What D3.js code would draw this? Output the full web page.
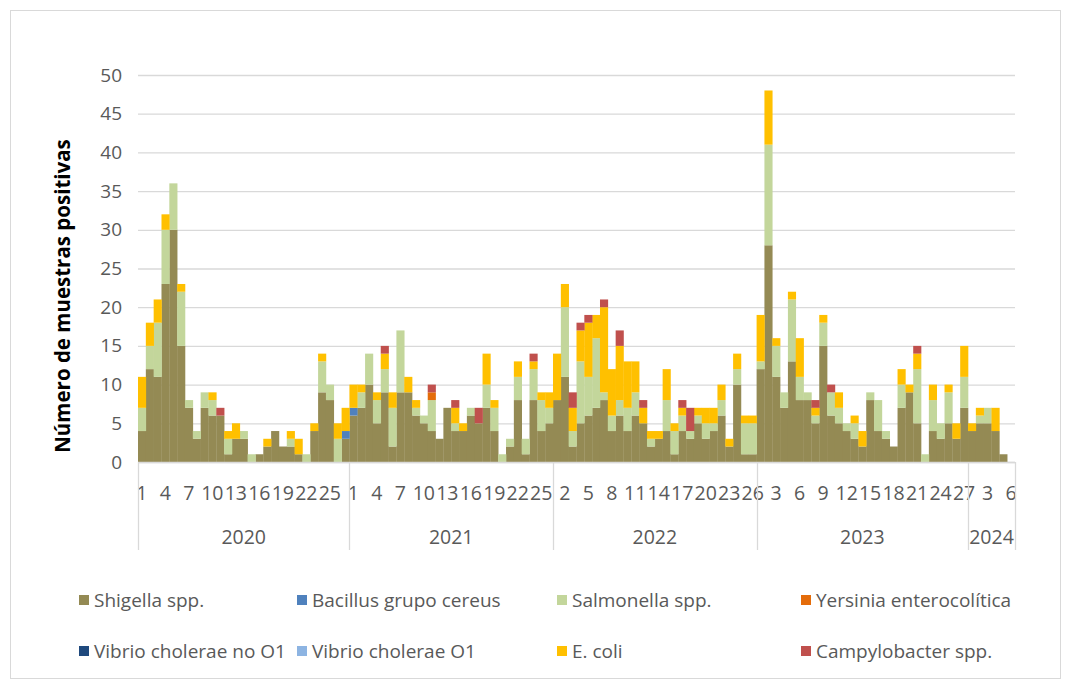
<!DOCTYPE html>
<html>
<head>
<meta charset="utf-8">
<script src="https://cdn.jsdelivr.net/npm/d3@7"></script>
<style>
  body { margin: 0; background: #fff; }
  text { font-family: "Open Sans", "Liberation Sans", sans-serif; }
</style>
</head>
<body>
<script>
// years and number of weeks shown for each
var years = ["2020", "2021", "2022", "2023", "2024"];
var weeksInYear = [27, 26, 26, 27, 6];

// series, one value per week (112 weeks), one row per year
var shigella = [
  4,12,11,23,30,15,7,3,7,6,6,1,3,3,0,1,2,4,2,2,1,0,4,9,8,0,3,
  6,7,10,5,9,2,9,9,6,5,4,3,7,4,4,6,5,7,4,0,2,8,1,8,4,5,
  8,11,2,5,6,7,8,4,6,4,6,5,2,3,4,1,4,3,5,3,4,6,2,10,1,1,
  12,28,11,7,13,8,8,5,15,6,5,4,3,2,8,4,3,2,7,9,5,0,4,3,5,3,7,
  4,5,5,4,1,0
];
var bacillus = [
  0,0,0,0,0,0,0,0,0,0,0,0,0,0,0,0,0,0,0,0,0,0,0,0,0,0,1,
  1,0,0,0,0,0,0,0,0,0,0,0,0,0,0,0,0,0,0,0,0,0,0,0,0,0,
  0,0,0,0,0,0,0,0,0,0,0,0,0,0,0,0,0,0,0,0,0,0,0,0,0,0,
  0,0,0,0,0,0,0,0,0,0,0,0,0,0,0,0,0,0,0,0,0,0,0,0,0,0,0,
  0,0,0,0,0,0
];
var salmonella = [
  3,3,7,7,6,7,1,1,2,2,0,2,0,1,1,0,0,0,0,1,0,1,0,4,2,3,0,
  0,2,4,3,3,5,8,0,1,1,4,0,0,1,0,1,0,3,3,1,1,3,2,4,4,2,
  0,9,2,8,5,9,1,2,2,3,3,0,1,0,4,3,2,1,1,2,1,2,0,2,4,4,
  1,13,4,2,8,3,1,1,3,3,2,1,2,0,1,4,1,0,3,0,7,1,4,2,4,0,4,
  0,1,2,0,0,0
];
var yersinia = [
  0,0,0,0,0,0,0,0,0,0,0,0,0,0,0,0,0,0,0,0,0,0,0,0,0,0,0,
  0,0,0,0,0,0,0,0,0,0,1,0,0,0,0,0,0,0,0,0,0,0,0,0,0,0,
  0,0,0,0,0,0,0,0,0,0,0,0,0,0,0,0,0,0,0,0,0,0,0,0,0,0,
  0,0,0,0,0,0,0,0,0,0,0,0,0,0,0,0,0,0,0,0,0,0,0,0,0,0,0,
  0,0,0,0,0,0
];
var vibrioNoO1 = [
  0,0,0,0,0,0,0,0,0,0,0,0,0,0,0,0,0,0,0,0,0,0,0,0,0,0,0,
  0,0,0,0,0,0,0,0,0,0,0,0,0,0,0,0,0,0,0,0,0,0,0,0,0,0,
  0,0,0,0,0,0,0,0,0,0,0,0,0,0,0,0,0,0,0,0,0,0,0,0,0,0,
  0,0,0,0,0,0,0,0,0,0,0,0,0,0,0,0,0,0,0,0,0,0,0,0,0,0,0,
  0,0,0,0,0,0
];
var vibrioO1 = [
  0,0,0,0,0,0,0,0,0,0,0,0,0,0,0,0,0,0,0,0,0,0,0,0,0,0,0,
  0,0,0,0,0,0,0,0,0,0,0,0,0,0,0,0,0,0,0,0,0,0,0,0,0,0,
  0,0,0,0,0,0,0,0,0,0,0,0,0,0,0,0,0,0,0,0,0,0,0,0,0,0,
  0,0,0,0,0,0,0,0,0,0,0,0,0,0,0,0,0,0,0,0,0,0,0,0,0,0,0,
  0,0,0,0,0,0
];
var ecoli = [
  4,3,3,2,0,1,0,0,0,1,0,1,2,0,0,0,1,0,0,1,2,0,1,1,0,2,3,
  3,1,0,1,2,2,0,2,1,0,0,0,0,2,1,0,0,4,1,0,0,2,0,1,1,2,
  6,3,3,4,7,3,11,6,7,6,4,2,1,1,4,1,1,0,1,2,2,2,1,2,1,1,
  6,7,1,0,1,5,0,1,1,0,2,0,1,2,0,0,0,0,2,1,2,0,2,0,1,2,4,
  1,1,0,3,0,0
];
var campylobacter = [
  0,0,0,0,0,0,0,0,0,0,1,0,0,0,0,0,0,0,0,0,0,0,0,0,0,0,0,
  0,0,0,0,1,0,0,0,0,0,1,0,0,1,0,0,2,0,0,0,0,0,0,1,0,0,
  0,0,2,1,1,0,1,0,2,0,0,1,0,0,0,0,1,3,0,0,0,0,0,0,0,0,
  0,0,0,0,0,0,0,1,0,1,0,0,0,0,0,0,0,0,0,0,1,0,0,0,0,0,0,
  0,0,0,0,0,0
];

var seriesNames = ["Shigella spp.", "Bacillus grupo cereus", "Salmonella spp.", "Yersinia enterocolítica",
  "Vibrio cholerae no O1", "Vibrio cholerae O1", "E. coli", "Campylobacter spp."];
var seriesValues = [shigella, bacillus, salmonella, yersinia, vibrioNoO1, vibrioO1, ecoli, campylobacter];
var colors = ["#948A54", "#4F81BD", "#C3D69B", "#E46C0A", "#1F497D", "#8DB4E2", "#FFC000", "#C0504D"];

var yTicks = [0, 5, 10, 15, 20, 25, 30, 35, 40, 45, 50];

// build week rows
var rows = [];
years.forEach(function(y, yi) {
  d3.range(1, weeksInYear[yi] + 1).forEach(function(w) {
    rows.push({ year: y, week: w });
  });
});
rows.forEach(function(r, i) {
  seriesNames.forEach(function(s, si) { r[s] = seriesValues[si][i]; });
  r.idx = i;
});

var svgWidth = 1067;
var svgHeight = 686;
var margin = { top: 75, left: 138, right: 52, bottom: 224 };
var chartWidth = svgWidth - margin.left - margin.right;
var chartHeight = svgHeight - margin.top - margin.bottom;

var svg = d3.select("body")
  .append("svg")
  .attr("width", svgWidth)
  .attr("height", svgHeight);

// chart frame
svg.append("rect")
  .attr("x", 10.5).attr("y", 10.5)
  .attr("width", 1050).attr("height", 668)
  .attr("fill", "none")
  .attr("stroke", "#d9d9d9");

var chartGroup = svg.append("g")
  .attr("transform", `translate(${margin.left}, ${margin.top})`);

var xScale = d3.scaleBand()
  .domain(rows.map(function(r) { return r.idx; }))
  .range([0, chartWidth])
  .padding(0);

var yScale = d3.scaleLinear()
  .domain([0, 50])
  .range([chartHeight, 0]);

// grid lines + y labels
var yAxis = d3.axisLeft(yScale).tickValues(yTicks).tickSize(-chartWidth).tickPadding(16);
var yg = chartGroup.append("g").call(yAxis);
yg.select(".domain").remove();
yg.selectAll(".tick line").attr("stroke", "#d9d9d9").attr("stroke-width", 1.3);
yg.selectAll(".tick text")
  .attr("fill", "#595959")
  .style("font-size", "19px")
  .style("font-family", "'Open Sans', sans-serif");

// stacked bars
var stack = d3.stack().keys(seriesNames);
var stacked = stack(rows);

chartGroup.selectAll(".layer")
  .data(stacked)
  .enter()
  .append("g")
  .attr("fill", function(d, i) { return colors[i]; })
  .selectAll("rect")
  .data(function(d) { return d.filter(function(p) { return p[1] > p[0]; }); })
  .enter()
  .append("rect")
  .attr("x", function(d) { return xScale(d.data.idx); })
  .attr("width", xScale.bandwidth() + 0.3)
  .attr("y", function(d) { return yScale(d[1]); })
  .attr("height", function(d) { return yScale(d[0]) - yScale(d[1]); });

// x axis line
chartGroup.append("line")
  .attr("x1", 0).attr("x2", chartWidth)
  .attr("y1", chartHeight + 0.5).attr("y2", chartHeight + 0.5)
  .attr("stroke", "#d9d9d9").attr("stroke-width", 1.3);

// week labels every third category
chartGroup.selectAll(".weekLabel")
  .data(rows.filter(function(r) { return r.idx % 3 === 0; }))
  .enter()
  .append("text")
  .attr("x", function(d) { return xScale(d.idx) + xScale.bandwidth() / 2; })
  .attr("y", chartHeight + 38)
  .attr("text-anchor", "middle")
  .attr("fill", "#595959")
  .style("font-size", "19.5px")
  .text(function(d) { return d.week; });

// year groups
var start = 0;
var yearSpans = years.map(function(y, yi) {
  var s = { year: y, from: start, to: start + weeksInYear[yi] };
  start += weeksInYear[yi];
  return s;
});

var bw = xScale.bandwidth();
chartGroup.selectAll(".yearSep")
  .data(yearSpans.map(function(s) { return s.from; }).concat([rows.length]))
  .enter()
  .append("line")
  .attr("x1", function(d) { return Math.round(d * bw) + 0.5; })
  .attr("x2", function(d) { return Math.round(d * bw) + 0.5; })
  .attr("y1", chartHeight)
  .attr("y2", chartHeight + 88)
  .attr("stroke", "#d9d9d9").attr("stroke-width", 1.3);

chartGroup.selectAll(".yearLabel")
  .data(yearSpans)
  .enter()
  .append("text")
  .attr("x", function(d) { return (d.from + d.to) / 2 * bw; })
  .attr("y", chartHeight + 82)
  .attr("text-anchor", "middle")
  .attr("fill", "#595959")
  .style("font-size", "19.5px")
  .text(function(d) { return d.year; });

// y axis title
svg.append("text")
  .attr("transform", "translate(70, 296) rotate(-90)")
  .attr("text-anchor", "middle")
  .attr("fill", "#000")
  .style("font-size", "20.5px")
  .style("font-weight", "bold")
  .text("Número de muestras positivas");

// legend
var legendX = [79, 297, 557, 801];
var legendY = [600, 651];
var legend = svg.selectAll(".legend")
  .data(seriesNames)
  .enter()
  .append("g")
  .attr("transform", function(d, i) {
    return `translate(${legendX[i % 4]}, ${legendY[Math.floor(i / 4)]})`;
  });

legend.append("rect")
  .attr("x", 0).attr("y", -5)
  .attr("width", 10).attr("height", 10)
  .attr("fill", function(d, i) { return colors[i]; });

legend.append("text")
  .attr("x", 15)
  .attr("y", 0)
  .attr("dy", "0.35em")
  .attr("fill", "#595959")
  .style("font-size", "19px")
  .text(function(d) { return d; });
</script>
</body>
</html>
